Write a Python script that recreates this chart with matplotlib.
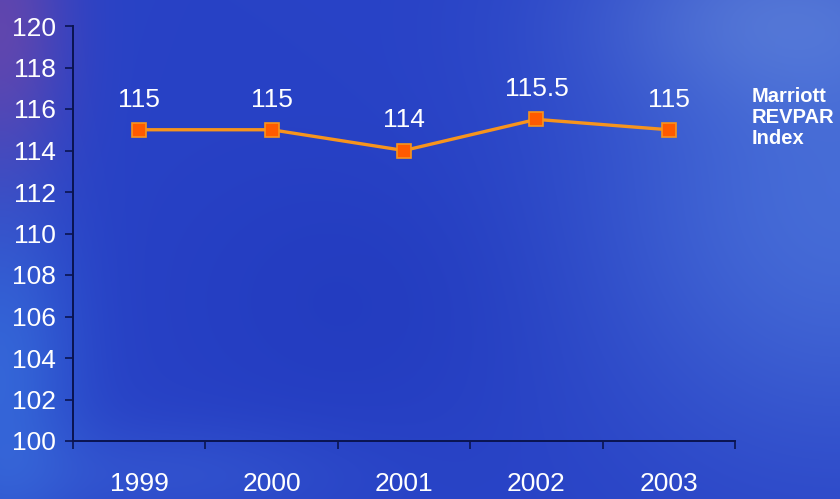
import numpy as np
import matplotlib.pyplot as plt

years = ["1999", "2000", "2001", "2002", "2003"]
revpar_index = [115, 115, 114, 115.5, 115]
value_labels = ["115", "115", "114", "115.5", "115"]
series_name = "Marriott\nREVPAR\nIndex"

W, H = 840, 499
fig = plt.figure(figsize=(W / 100, H / 100), dpi=100)

# background: blue wash with a lighter swell on the right, purple in the top-left corner
yy, xx = np.mgrid[0:H, 0:W] / np.array([H, W])[:, None, None]
base = np.array([40, 66, 198]) / 255.0
img = np.ones((H, W, 3)) * base


def blob(cx, cy, sx, sy, color, strength):
    g = np.exp(-(((xx - cx) / sx) ** 2 + ((yy - cy) / sy) ** 2))
    return g[..., None] * (np.array(color) / 255.0 - base) * strength


img += blob(1.0, 0.4, 0.3, 0.5, (75, 115, 218), 0.85)
img += blob(0.92, 0.02, 0.22, 0.18, (85, 115, 210), 0.6)
img += blob(0.0, 0.05, 0.08, 0.3, (105, 70, 170), 0.85)
img += blob(0.0, 0.75, 0.09, 0.35, (55, 110, 220), 0.8)
img += blob(0.45, 0.6, 0.25, 0.3, (32, 56, 188), 0.6)
img += blob(0.2, 0.95, 0.22, 0.1, (60, 100, 215), 0.45)
img = np.clip(img, 0, 1)

bg = fig.add_axes([0, 0, 1, 1])
bg.imshow(img, aspect="auto", extent=[0, 1, 0, 1], origin="upper")
bg.axis("off")

ax = fig.add_axes([73 / W, 1 - 441 / H, (735 - 73) / W, (441 - 26) / H])
ax.patch.set_alpha(0)

x = np.arange(len(years))
ax.plot(x, revpar_index, color="#F7941D", lw=2.4, zorder=3)
ax.plot(x, revpar_index, ls="none", marker="s", ms=10,
        mfc="#FF5A00", mec="#F7941D", mew=1.2, zorder=4)

for xi, v, lab in zip(x, revpar_index, value_labels):
    ax.annotate(lab, (xi, v), xytext=(0, 13), textcoords="offset points",
                ha="center", va="bottom", color="white",
                fontsize=19, family="Liberation Sans")

ax.set_xlim(-0.5, len(years) - 0.5)
ax.set_ylim(100, 120)
ax.set_yticks(np.arange(100, 121, 2))
ax.set_xticks(np.arange(len(years) + 1) - 0.5, minor=False)
ax.set_xticklabels([])
ax.set_xticks(x, minor=True)
ax.set_xticklabels(years, minor=True)
ax.tick_params(axis="x", which="minor", length=0, pad=22,
               labelsize=19, labelcolor="white")
ax.tick_params(axis="x", which="major", length=6, color="#0A1450", width=1.2)
ax.tick_params(axis="y", length=6, color="#0A1450", width=1.2,
               labelsize=19, labelcolor="white", pad=6)
for lab in ax.get_xticklabels(minor=True) + ax.get_yticklabels():
    lab.set_family("Liberation Sans")

for side in ("top", "right"):
    ax.spines[side].set_visible(False)
for side in ("left", "bottom"):
    ax.spines[side].set_color("#0A1450")
    ax.spines[side].set_linewidth(1.4)

fig.text(752 / W, 1 - 87 / H, series_name, color="white", fontsize=14.5,
         fontweight="bold", family="Liberation Sans", ha="left", va="top",
         linespacing=1.12)

fig.savefig("out.png", dpi=100)
